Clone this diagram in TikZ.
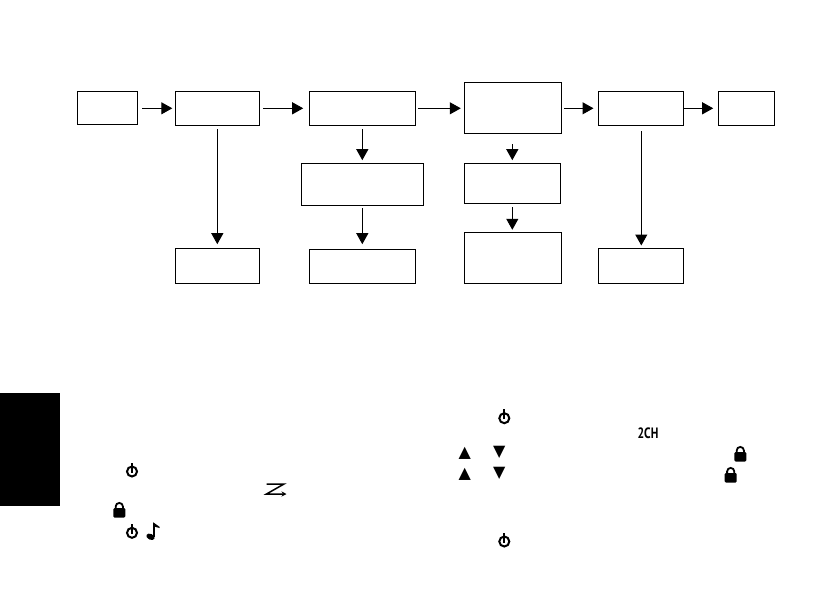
\documentclass[tikz,border=0pt]{standalone}
\usepackage{fontspec}
\usetikzlibrary{arrows.meta}
\newfontfamily\symfont{DejaVu Sans}
\newfontfamily\labelfont{PT Sans}
\tikzset{
	box/.style={draw, line width=1pt, inner sep=0pt},
	flow/.style={line width=1pt, -{Triangle[length=11pt,width=12pt]}},
	sym/.style={inner sep=0pt, font=\symfont\fontsize{16}{16}\selectfont},
	powericon/.pic={
		\draw[line width=2pt] (0,0) circle (5pt);
		\draw[line width=1.8pt] (0,1) -- (0,-9);
	},
	lockicon/.pic={
		\draw[line width=1.8pt] (-3.6,0) -- (-3.6,-3) arc (180:0:3.6pt) -- (3.6,0);
		\fill[rounded corners=1.2pt] (-6,-1.5) rectangle (6,8);
	},
	noteicon/.pic={
		\fill[rotate=-25] (0,0) ellipse (4.4pt and 2.9pt);
		\draw[line width=1.6pt] (3.4,0) -- (3.4,-13);
		\fill (2.7,-14.5) -- (9,-10) -- (9,-8.8) -- (2.7,-10.5) -- cycle;
	},
}

\begin{document}
\begin{tikzpicture}[x=1pt, y=-1pt]
	\useasboundingbox (0,0) rectangle (840,594);
	
	\node[box, minimum width=60.4pt, minimum height=33pt] at (107.5,107.8) (start) {};
	\node[box, minimum width=84pt, minimum height=34pt] at (217.3,108.3) (first) {};
	\node[box, minimum width=106pt, minimum height=34pt] at (362.3,108.3) (second) {};
	\node[box, minimum width=97pt, minimum height=51pt] at (512.8,107.8) (third) {};
	\node[box, minimum width=85pt, minimum height=34pt] at (640.8,108.3) (fourth) {};
	\node[box, minimum width=56.4pt, minimum height=34pt] at (746.5,108.3) (finish) {};
	
	\node[box, minimum width=122pt, minimum height=42pt] at (362.3,184.3) (secondmid) {};
	\node[box, minimum width=96pt, minimum height=40pt] at (512.3,183.3) (thirdmid) {};
	
	\node[box, minimum width=84pt, minimum height=35pt] at (217.3,265.8) (firstlow) {};
	\node[box, minimum width=106pt, minimum height=34pt] at (362.3,266.3) (secondlow) {};
	\node[box, minimum width=97pt, minimum height=51pt] at (512.8,257.8) (thirdlow) {};
	\node[box, minimum width=85pt, minimum height=35pt] at (640.8,265.8) (fourthlow) {};
	
	\draw[flow, shorten <=3.8pt, shorten >=2.5pt] (start.east |- first) -- (first);
	\draw[flow, shorten <=3.2pt, shorten >=5.6pt] (first) -- (second);
	\draw[flow, shorten <=2.2pt, shorten >=3pt] (second) -- (third.west |- second);
	\draw[flow, shorten <=2.2pt, shorten >=4.3pt] (third.east |- fourth) -- (fourth);
	\draw[flow, shorten >=4.6pt] (fourth) -- (finish);
	
	\draw[flow, shorten <=3.2pt, shorten >=3.6pt] (first) -- (firstlow);
	\draw[flow, shorten <=3.2pt, shorten >=2.6pt] (second) -- (secondmid);
	\draw[flow, shorten <=2.2pt, shorten >=4.6pt] (secondmid) -- (secondlow);
	\draw[flow, shorten <=10.2pt, shorten >=2.6pt] (third.south -| thirdmid) -- (thirdmid);
	\draw[flow, shorten <=3.2pt, shorten >=2pt] (thirdmid) -- (thirdlow.north -| thirdmid);
	\draw[flow, shorten <=5.2pt, shorten >=2.3pt] (fourth.south -| 641.3,0) -- (fourthlow.north -| 641.3,0);
	
	% side tab
	\fill (0,393) rectangle (60,506);
	
	% symbols, left column
	\pic at (132,471.5) {powericon};
	\pic at (132,532.8) {powericon};
	\pic at (119.3,509.5) {lockicon};
	\pic at (150.5,536.8) {noteicon};
	\coordinate (zstart) at (266.5,484);
	\coordinate (zturn) at (284,484);
	\coordinate (zback) at (266.5,494);
	\coordinate (zend) at (286.5,494);
	\draw[line width=1.5pt, -{Stealth[length=5pt,width=5pt]}] (zstart) -- (zturn) -- (zback) -- (zend);
	
	% symbols, right column
	\pic at (504.3,418.2) {powericon};
	\pic at (504.3,541.5) {powericon};
	\node[inner sep=0pt] at (648,433.7) (twoch) {\scalebox{.78}[1]{\labelfont\bfseries\fontsize{15}{15}\selectfont 2CH}};
	\node[sym] at (464.7,453) (upa) {▲};
	\node[sym] at (499.3,452.5) (downa) {▼};
	\node[sym] at (464.7,474) (upb) {▲};
	\node[sym] at (499.3,473.5) (downb) {▼};
	\pic at (740.3,453.5) {lockicon};
	\pic at (730.7,474.5) {lockicon};
\end{tikzpicture}
\end{document}
